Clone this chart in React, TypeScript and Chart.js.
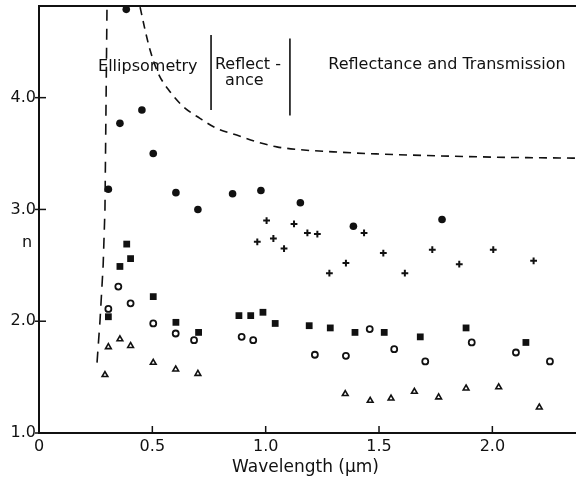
import React, { useEffect, useRef } from "react";
import { Chart, registerables } from "chart.js";
Chart.register(...registerables);

const FONT = "'DejaVu Sans', 'Noto Sans', sans-serif";
const INK = "#111";

// axis ranges & ticks
const xMin = 0;
const xMax = 2.369;
const yMin = 1.0;
const yMax = 4.82;
const xTicks = [0, 0.5, 1.0, 1.5, 2.0];
const xTickLabels = ["0", "0.5", "1.0", "1.5", "2.0"];
const yTicks = [1.0, 2.0, 3.0, 4.0];
const yTickLabels = ["1.0", "2.0", "3.0", "4.0"];
const xTitle = "Wavelength (\u03bcm)";
const yTitle = "n";

// filled circles
const dotX = [0.385, 0.357, 0.454, 0.504, 0.306, 0.604, 0.701, 0.854, 0.979, 1.153, 1.387, 1.778];
const dotY = [4.79, 3.77, 3.89, 3.50, 3.18, 3.15, 3.00, 3.14, 3.17, 3.06, 2.85, 2.91];

// crosses
const crossX = [0.963, 1.004, 1.034, 1.081, 1.125, 1.184, 1.228, 1.281, 1.354, 1.434, 1.519, 1.614, 1.735, 1.854, 2.004, 2.182];
const crossY = [2.71, 2.90, 2.74, 2.65, 2.87, 2.79, 2.78, 2.43, 2.52, 2.79, 2.61, 2.43, 2.64, 2.51, 2.64, 2.54];

// filled squares
const squareX = [0.306, 0.357, 0.387, 0.404, 0.504, 0.604, 0.704, 0.882, 0.934, 0.988, 1.042, 1.192, 1.285, 1.394, 1.523, 1.682, 1.884, 2.148];
const squareY = [2.04, 2.49, 2.69, 2.56, 2.22, 1.99, 1.90, 2.05, 2.05, 2.08, 1.98, 1.96, 1.94, 1.90, 1.90, 1.86, 1.94, 1.81];

// open circles
const ringX = [0.306, 0.350, 0.404, 0.504, 0.603, 0.684, 0.894, 0.945, 1.217, 1.354, 1.459, 1.567, 1.704, 1.909, 2.104, 2.254];
const ringY = [2.11, 2.31, 2.16, 1.98, 1.89, 1.83, 1.86, 1.83, 1.70, 1.69, 1.93, 1.75, 1.64, 1.81, 1.72, 1.64];

// open triangles
const triX = [0.291, 0.306, 0.357, 0.404, 0.504, 0.603, 0.701, 1.351, 1.461, 1.553, 1.656, 1.763, 1.884, 2.028, 2.207];
const triY = [1.52, 1.77, 1.84, 1.78, 1.63, 1.57, 1.53, 1.35, 1.29, 1.31, 1.37, 1.32, 1.40, 1.41, 1.23];

// dashed boundary curves
const edgeX = [0.256, 0.269, 0.283, 0.291, 0.296, 0.300];
const edgeY = [1.63, 2.00, 2.50, 3.00, 4.00, 4.82];
const limitX = [0.446, 0.468, 0.490, 0.526, 0.578, 0.637, 0.710, 0.784, 0.872, 0.960, 1.049, 1.137, 1.300, 1.487, 2.003, 2.369];
const limitY = [4.81, 4.605, 4.426, 4.218, 4.053, 3.919, 3.815, 3.725, 3.665, 3.605, 3.560, 3.537, 3.515, 3.497, 3.468, 3.459];

// region separators
const sep1X = [0.759, 0.759];
const sep1Y = [4.56, 3.89];
const sep2X = [1.107, 1.107];
const sep2Y = [4.53, 3.84];

// region labels: text, x, y, align
const labelTexts = ["Ellipsometry", "Reflect -", "ance", "Reflectance and Transmission"];
const labelX = [0.48, 0.776, 0.906, 1.80];
const labelY = [4.28, 4.29, 4.15, 4.29];
const labelAlign = ["center", "left", "center", "center"];

const pts = (xs: number[], ys: number[]) => xs.map((x, i) => ({ x, y: ys[i] }));

const decorPlugin = {
  id: "decor",
  afterDraw(chart: any) {
    const ctx = chart.ctx;
    const { left, right, top, bottom } = chart.chartArea;
    const xs = chart.scales.x;
    const ys = chart.scales.y;
    ctx.save();
    ctx.strokeStyle = INK;
    // top frame line
    ctx.lineWidth = 2;
    ctx.beginPath();
    ctx.moveTo(left - 1, top);
    ctx.lineTo(right, top);
    ctx.stroke();
    // y ticks crossing the axis
    ctx.lineWidth = 1.5;
    yTicks.forEach((v) => {
      const py = ys.getPixelForValue(v);
      ctx.beginPath();
      ctx.moveTo(left - 4, py);
      ctx.lineTo(left + 7, py);
      ctx.stroke();
    });
    // x ticks inside
    xTicks.forEach((v) => {
      if (v === 0) return;
      const px = xs.getPixelForValue(v);
      ctx.beginPath();
      ctx.moveTo(px, bottom);
      ctx.lineTo(px, bottom - 7);
      ctx.stroke();
    });
    // region labels
    ctx.fillStyle = INK;
    ctx.font = `16px ${FONT}`;
    ctx.textBaseline = "middle";
    labelTexts.forEach((t, i) => {
      ctx.textAlign = labelAlign[i] as CanvasTextAlign;
      ctx.fillText(t, xs.getPixelForValue(labelX[i]), ys.getPixelForValue(labelY[i]));
    });
    // axis titles
    ctx.textAlign = "center";
    ctx.font = `17px ${FONT}`;
    ctx.fillText(xTitle, (left + right) / 2 - 2, bottom + 35);
    ctx.font = `16px ${FONT}`;
    ctx.fillText(yTitle, left - 12, ys.getPixelForValue(2.7));
    ctx.restore();
  },
};

export default function App() {
  const ref = useRef<HTMLCanvasElement | null>(null);
  useEffect(() => {
    if (!ref.current) return;
    const lineDs = (xs: number[], ys: number[], dash: number[]) => ({
      data: pts(xs, ys),
      showLine: true,
      borderColor: INK,
      borderWidth: 1.6,
      borderDash: dash,
      pointRadius: 0,
      tension: 0,
      fill: false,
      clip: false as any,
    });
    const chart = new Chart(ref.current, {
      type: "scatter",
      data: {
        datasets: [
          { data: pts(dotX, dotY), pointStyle: "circle", pointRadius: 3.8, backgroundColor: INK, borderColor: INK, borderWidth: 0, clip: false as any },
          { data: pts(squareX, squareY), pointStyle: "rect", pointRadius: 4.8, backgroundColor: INK, borderColor: INK, borderWidth: 0, clip: false as any },
          { data: pts(ringX, ringY), pointStyle: "circle", pointRadius: 3.0, backgroundColor: "#fff", borderColor: INK, borderWidth: 1.8, clip: false as any },
          { data: pts(triX, triY), pointStyle: "triangle", pointRadius: 3.3, backgroundColor: "#fff", borderColor: INK, borderWidth: 1.6, clip: false as any },
          { data: pts(crossX, crossY), pointStyle: "cross", pointRadius: 3.4, backgroundColor: INK, borderColor: INK, borderWidth: 2, clip: false as any },
          lineDs(edgeX, edgeY, [11, 8]),
          { ...lineDs(limitX, limitY, [8, 6]), cubicInterpolationMode: "monotone" },
          lineDs(sep1X, sep1Y, []),
          lineDs(sep2X, sep2Y, []),
        ] as any,
      },
      options: {
        animation: false,
        responsive: false,
        maintainAspectRatio: false,
        layout: { autoPadding: false, padding: { top: 6, left: 0, right: 0, bottom: 0 } },
        plugins: { legend: { display: false }, tooltip: { enabled: false } },
        scales: {
          x: {
            type: "linear",
            min: xMin,
            max: xMax,
            afterBuildTicks: (s: any) => { s.ticks = xTicks.map((v) => ({ value: v })); },
            afterFit: (s: any) => { s.height = 48; s.paddingLeft = 0; s.paddingRight = 0; s.paddingTop = 0; s.paddingBottom = 0; },
            grid: { display: true, drawOnChartArea: false, drawTicks: false },
            border: { display: true, color: INK, width: 2 },
            ticks: {
              padding: 4,
              color: INK,
              maxRotation: 0,
              autoSkip: false,
              font: { family: FONT, size: 16 },
              callback: (_v: any, i: number) => xTickLabels[i],
            },
          },
          y: {
            type: "linear",
            min: yMin,
            max: yMax,
            afterBuildTicks: (s: any) => { s.ticks = yTicks.map((v) => ({ value: v })); },
            afterFit: (s: any) => { s.width = 39; s.paddingLeft = 0; s.paddingRight = 0; s.paddingTop = 0; s.paddingBottom = 0; },
            grid: { display: true, drawOnChartArea: false, drawTicks: false },
            border: { display: true, color: INK, width: 2 },
            ticks: {
              padding: 3,
              color: INK,
              autoSkip: false,
              font: { family: FONT, size: 16 },
              callback: (_v: any, i: number) => yTickLabels[i],
            },
          },
        },
      } as any,
      plugins: [decorPlugin],
    });
    return () => chart.destroy();
  }, []);
  return (
    <div style={{ position: "absolute", left: 0, top: 0, width: 576, height: 481, background: "#fff" }}>
      <canvas ref={ref} width={576} height={481} style={{ display: "block" }} />
    </div>
  );
}
